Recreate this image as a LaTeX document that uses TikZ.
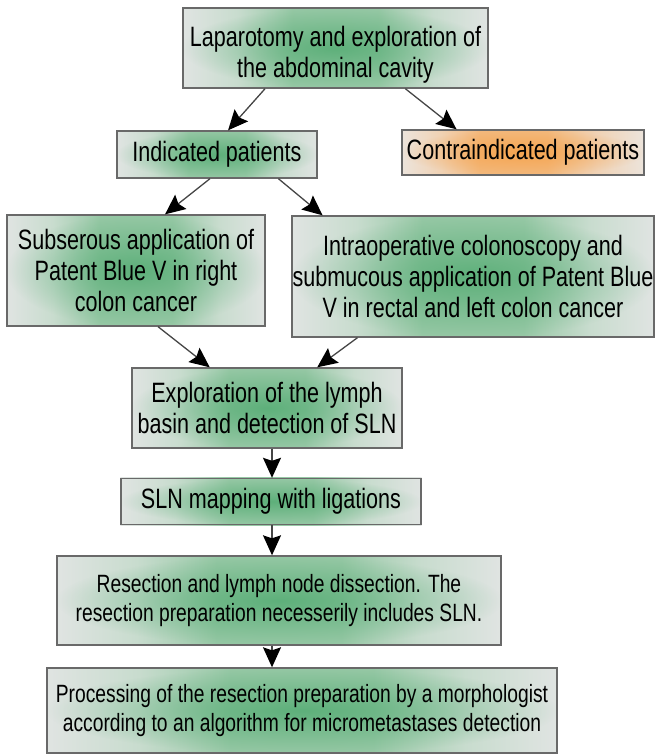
\documentclass[tikz,border=0pt]{standalone}
\usepackage{fontspec}
\setmainfont{Liberation Sans}[FakeStretch=0.77]
\usetikzlibrary{arrows.meta,calc,fadings,backgrounds}
\definecolor{gE}{RGB}{224,228,226}
\definecolor{gL}{RGB}{200,220,206}
\definecolor{gM}{RGB}{150,200,165}
\definecolor{gC}{RGB}{80,170,112}
\definecolor{oE}{RGB}{236,228,220}
\definecolor{oL}{RGB}{240,210,180}
\definecolor{oM}{RGB}{243,185,125}
\definecolor{oC}{RGB}{246,160,70}
\definecolor{bdr}{RGB}{105,105,105}
\definecolor{arrc}{RGB}{70,70,70}
\pgfdeclarehorizontalshading{gbox}{100bp}{color(0bp)=(gE); color(25bp)=(gE); color(34bp)=(gL); color(43bp)=(gM); color(50bp)=(gM); color(57bp)=(gM); color(66bp)=(gL); color(75bp)=(gE); color(100bp)=(gE)}
\pgfdeclarehorizontalshading{obox}{100bp}{color(0bp)=(oE); color(25bp)=(oE); color(33bp)=(oL); color(41bp)=(oM); color(48bp)=(oM); color(55bp)=(oM); color(65bp)=(oL); color(75bp)=(oE); color(100bp)=(oE)}
\tikzfading[name=glow, inner color=transparent!20, outer color=transparent!100]
\begin{document}
\begin{tikzpicture}[x=1pt,y=-1pt,
  box/.style={draw=bdr, line width=1.4pt, inner sep=0pt, align=center, font=\fontsize{28}{31}\selectfont},
  smallbox/.style={box, font=\fontsize{25}{29}\selectfont},
  arr/.style={draw=arrc, line width=1.3pt, -{Stealth[length=20pt,width=18pt,inset=3pt,color=black]}}]
\useasboundingbox (0,0) rectangle (655,756);
\node[box, minimum width=305pt, minimum height=80pt] (b1) at (335.5,48) {\rule{0pt}{33pt}Laparotomy and exploration of\\the abdominal cavity};
\node[box, minimum width=200pt, minimum height=47pt] (b2) at (217,154.5) {Indicated patients};
\node[box, minimum width=242pt, minimum height=45pt] (b3) at (523,152.5) {Contraindicated patients};
\node[box, minimum width=258pt, minimum height=111pt] (b4) at (136,270.5) {Subserous application of\\Patent Blue V in right\\colon cancer};
\node[box, minimum width=362pt, minimum height=121pt] (b5) at (473,276.5) {Intraoperative colonoscopy and\\submucous application of Patent Blue\\V in rectal and left colon cancer};
\node[box, minimum width=270pt, minimum height=80pt] (b6) at (267,408) {Exploration of the lymph\\basin and detection of SLN};
\node[box, minimum width=300pt, minimum height=46pt] (b7) at (271,501.5) {SLN mapping with ligations};
\node[smallbox, minimum width=444pt, minimum height=89pt] (b8) at (279,600.5) {Resection and lymph node dissection. The\\resection preparation necesserily includes SLN.};
\node[smallbox, minimum width=510pt, minimum height=85pt] (b9) at (302,710.5) {Processing of the resection preparation by a morphologist\\according to an algorithm for micrometastases detection};
\begin{scope}[on background layer]
\foreach \n in {b1,b2,b4,b5,b6,b7,b8,b9}{
  \shade[shading=gbox] (\n.south west) rectangle (\n.north east);
  \fill[gC, path fading=glow] (\n.south west) rectangle (\n.north east);
}
\shade[shading=obox] (b3.south west) rectangle (b3.north east);
\fill[oC, path fading=glow] (b3.south west) rectangle (b3.north east);
\end{scope}
\coordinate (ax) at (272,0);
\draw[arr] ($(b1.south west)!0.27!(b1.south east)$) -- ($(b2.north west)!0.555!(b2.north east)$);
\draw[arr] ($(b1.south west)!0.728!(b1.south east)$) -- ($(b3.north west)!0.227!(b3.north east)$);
\draw[arr] ($(b2.south west)!0.465!(b2.south east)$) -- ($(b4.north west)!0.612!(b4.north east)$);
\draw[arr] ($(b2.south west)!0.805!(b2.south east)$) -- ($(b5.north west)!0.086!(b5.north east)$);
\draw[arr] ($(b4.south west)!0.585!(b4.south east)$) -- ($(b6.north west)!0.289!(b6.north east)$);
\draw[arr] ($(b5.south west)!0.182!(b5.south east)$) -- ($(b6.north west)!0.685!(b6.north east)$);
\draw[arr] (b6.south -| ax) -- (b7.north -| ax);
\draw[arr] (b7.south -| ax) -- (b8.north -| ax);
\draw[arr] (b8.south -| ax) -- (b9.north -| ax);
\end{tikzpicture}
\end{document}
